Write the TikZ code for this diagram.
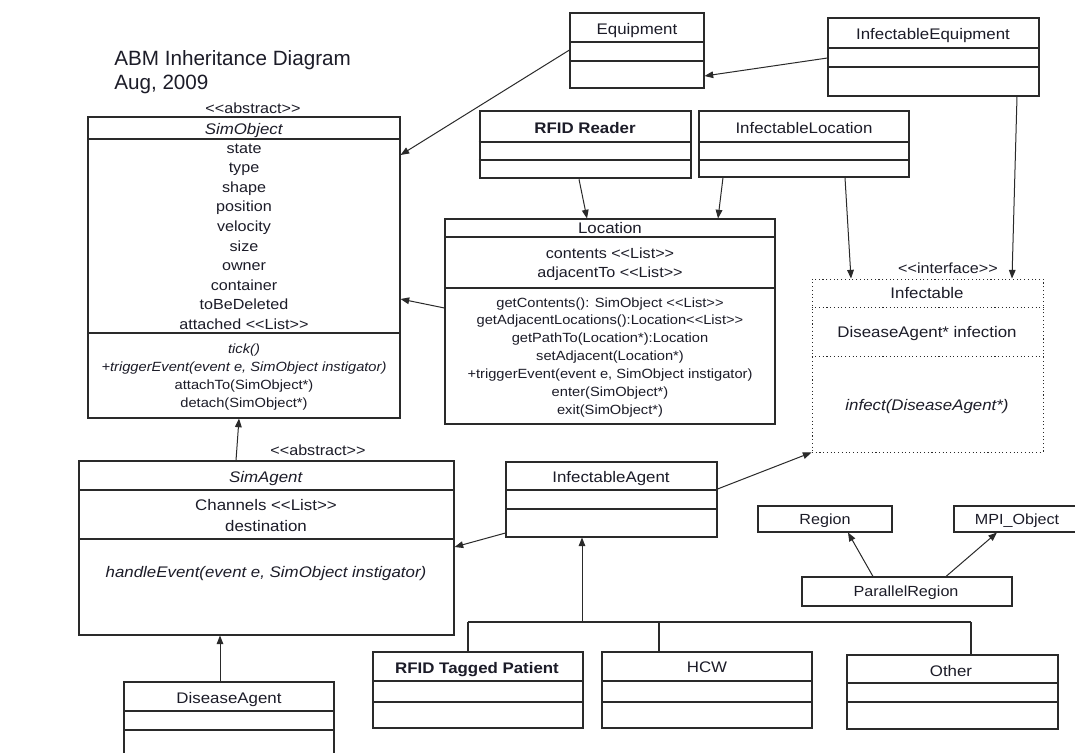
\documentclass[tikz,border=0pt]{standalone}
\usepackage{fontspec}
\setmainfont[FakeStretch=1.1]{Liberation Sans}
\newfontfamily\titlefont{Liberation Sans}
\usetikzlibrary{fit,arrows.meta}
\definecolor{linec}{HTML}{2A2A2A}
\definecolor{txt}{HTML}{1C1C28}
\newcommand\llt{<\kern0pt<}
\newcommand\ggt{>\kern0pt>}
\newcommand\fsz[1]{\fontsize{#1}{#1}\selectfont}
\newcommand\umlbox[6][]{\node[box,#1,fit={(#3,#4) (#5,#6)}] (#2) {};}
\newcommand\hsep[3][]{\draw[sepl,#1] (#2.west |- 0,#3) -- (#2.east |- 0,#3);}
\tikzset{
  box/.style={draw=linec, line width=0.8pt, inner sep=0pt},
  thickb/.style={line width=1.9pt},
  dottedb/.style={dotted, line width=0.7pt},
  sepl/.style={draw=linec, line width=0.8pt},
  tx/.style={anchor=base, inner sep=0pt, text=txt},
  nm/.style={tx, font=\fsz{11.5}},
  attr/.style={tx, font=\fsz{11}},
  meth/.style={tx, font=\fsz{10}},
  arr/.style={draw=linec, line width=0.75pt, -{Triangle[length=6.5pt,width=5pt]}},
  ln/.style={draw=linec, line width=0.8pt}
}
\begin{document}
\begin{tikzpicture}[x=0.75pt,y=-0.75pt]
\fill[white] (0,0) rectangle (1075,753);
\useasboundingbox (0,0) rectangle (1075,753);

% title
\node[tx, anchor=base west, font=\titlefont\fsz{15.5}] (title1) at (114,65) {ABM Inheritance Diagram};
\node[tx, anchor=base west, font=\titlefont\fsz{15.5}] (title2) at (114,89) {Aug, 2009};

% SimObject
\node[attr] (simobjst) at (253,113) {\llt abstract\ggt};
\umlbox{simobj}{88}{117}{400}{418}
\hsep{simobj}{139}
\hsep{simobj}{333}
\node[nm] (simobjn) at (244,134) {\textit{SimObject}};
\foreach \t [count=\i from 0] in {state,type,shape,position,velocity,size,owner,container,toBeDeleted,{attached \llt List\ggt}}
  \node[attr] (soa\i) at (244,153+19.6*\i) {\t};
\node[meth] (som0) at (244,353) {\textit{tick()}};
\node[meth] (som1) at (244,371.5) {\textit{+triggerEvent(event e, SimObject instigator)}};
\node[meth] (som2) at (244,389.5) {attachTo(SimObject*)};
\node[meth] (som3) at (244,407.5) {detach(SimObject*)};

% Equipment
\umlbox{equip}{570}{13}{704}{88}
\hsep{equip}{42}
\hsep{equip}{61}
\node[nm] (equipn) at (637,34) {Equipment};

% InfectableEquipment
\umlbox{infeq}{828}{18}{1039}{96}
\hsep{infeq}{48}
\hsep{infeq}{67}
\node[nm] (infeqn) at (933,39) {InfectableEquipment};

% RFID Reader
\umlbox[thickb]{rfid}{480}{111}{691}{178}
\hsep[thickb]{rfid}{142}
\hsep[thickb]{rfid}{160}
\node[nm] (rfidn) at (585,133) {\textbf{RFID Reader}};

% InfectableLocation
\umlbox{infloc}{699}{111}{909}{177}
\hsep{infloc}{142}
\hsep{infloc}{160}
\node[nm] (inflocn) at (804,133) {InfectableLocation};

% Location
\umlbox{loc}{445}{219}{775}{424}
\hsep{loc}{237}
\hsep{loc}{288}
\node[nm] (locn) at (610,233) {Location};
\node[attr] (loca0) at (610,258) {contents \llt List\ggt};
\node[attr] (loca1) at (610,277) {adjacentTo \llt List\ggt};
\foreach \t [count=\i from 0] in {{getContents(): SimObject \llt List\ggt},{getAdjacentLocations():Location\llt List\ggt},{getPathTo(Location*):Location},{setAdjacent(Location*)},{+triggerEvent(event e, SimObject instigator)},{enter(SimObject*)},{exit(SimObject*)}}
  \node[meth] (locm\i) at (610,307+17.9*\i) {\t};

% Infectable
\node[attr] (infst) at (948,273) {\llt interface\ggt};
\umlbox[dottedb]{infect}{812}{279}{1043}{452}
\hsep[dottedb]{infect}{307}
\hsep[dottedb]{infect}{356}
\node[nm] (infn) at (927,298) {Infectable};
\node[nm] (infa) at (927,337) {DiseaseAgent* infection};
\node[nm] (infm) at (927,410) {\textit{infect(DiseaseAgent*)}};

% SimAgent
\node[attr] (sast) at (318,455) {\llt abstract\ggt};
\umlbox{simagent}{79}{461}{454}{635}
\hsep[line width=1.6pt]{simagent}{490}
\hsep[line width=1.6pt]{simagent}{539}
\node[nm] (san) at (266,482) {\textit{SimAgent}};
\node[nm] (saa0) at (266,510) {Channels \llt List\ggt};
\node[nm] (saa1) at (266,531) {destination};
\node[nm] (sam) at (266,577) {\textit{handleEvent(event e, SimObject instigator)}};

% DiseaseAgent
\umlbox{disease}{124}{682}{334}{765}
\hsep{disease}{711}
\hsep{disease}{730}
\node[nm] (diseasen) at (229,703) {DiseaseAgent};

% InfectableAgent
\umlbox{infagent}{506}{462}{717}{537}
\hsep[line width=1.6pt]{infagent}{490}
\hsep{infagent}{509}
\node[nm] (infagentn) at (611,482) {InfectableAgent};

% Region, MPI_Object, ParallelRegion
\umlbox{region}{758}{506}{892}{532}
\node[attr] (regionn) at (825,524) {Region};
\umlbox{mpi}{954}{506}{1090}{532}
\node[attr] (mpin) at (1017,524) {MPI\_Object};
\umlbox{preg}{802}{577}{1012}{606}
\node[attr] (pregn) at (906,596) {ParallelRegion};

% bottom row
\umlbox{rtp}{373}{652}{583}{728}
\hsep{rtp}{681}
\hsep{rtp}{702}
\node[nm] (rtpn) at (477,673) {\textbf{RFID Tagged Patient}};
\umlbox{hcw}{602}{652}{812}{728}
\hsep{hcw}{681}
\hsep{hcw}{702}
\node[nm] (hcwn) at (707,672) {HCW};
\umlbox{other}{847}{655}{1058}{729}
\hsep[line width=1.6pt]{other}{683}
\hsep{other}{702}
\node[nm] (othern) at (951,676) {Other};

% connectors
\draw[arr] (equip.west |- 0,50) -- (simobj.east |- 0,155);
\draw[arr] (infeq.west |- 0,58) -- (equip.east |- 0,76);
\draw[arr] (rfid.south -| 579,0) -- (loc.north -| 587,0);
\draw[arr] (infloc.south -| 723,0) -- (loc.north -| 718,0);
\draw[arr] (infloc.south -| 845,0) -- (infect.north -| 851,0);
\draw[arr] (infeq.south -| 1017,0) -- (infect.north -| 1012,0);
\draw[arr] (loc.west |- 0,308) -- (simobj.east |- 0,299);
\draw[arr] (simagent.north -| 236,0) -- (simobj.south -| 239,0);
\draw[arr] (infagent.west |- 0,533) -- (simagent.east |- 0,547);
\draw[arr] (infagent.east |- 0,489) -- (infect.south west);
\draw[arr] (disease.north -| 220,0) -- (simagent.south -| 220,0);
\draw[arr] (preg.north -| 873,0) -- (region.south -| 848,0);
\draw[arr] (preg.north -| 946,0) -- (mpi.south -| 997,0);

\coordinate (busL) at (468,622);
\coordinate (busM) at (582,622);
\coordinate (busH) at (659,622);
\coordinate (busR) at (971,622);
\draw[ln] (busL) -- (busR);
\draw[ln] (busL) -- (rtp.north -| busL);
\draw[ln] (busH) -- (hcw.north -| busH);
\draw[ln] (busR) -- (other.north -| busR);
\draw[arr] (busM) -- (infagent.south -| busM);
\end{tikzpicture}
\end{document}
